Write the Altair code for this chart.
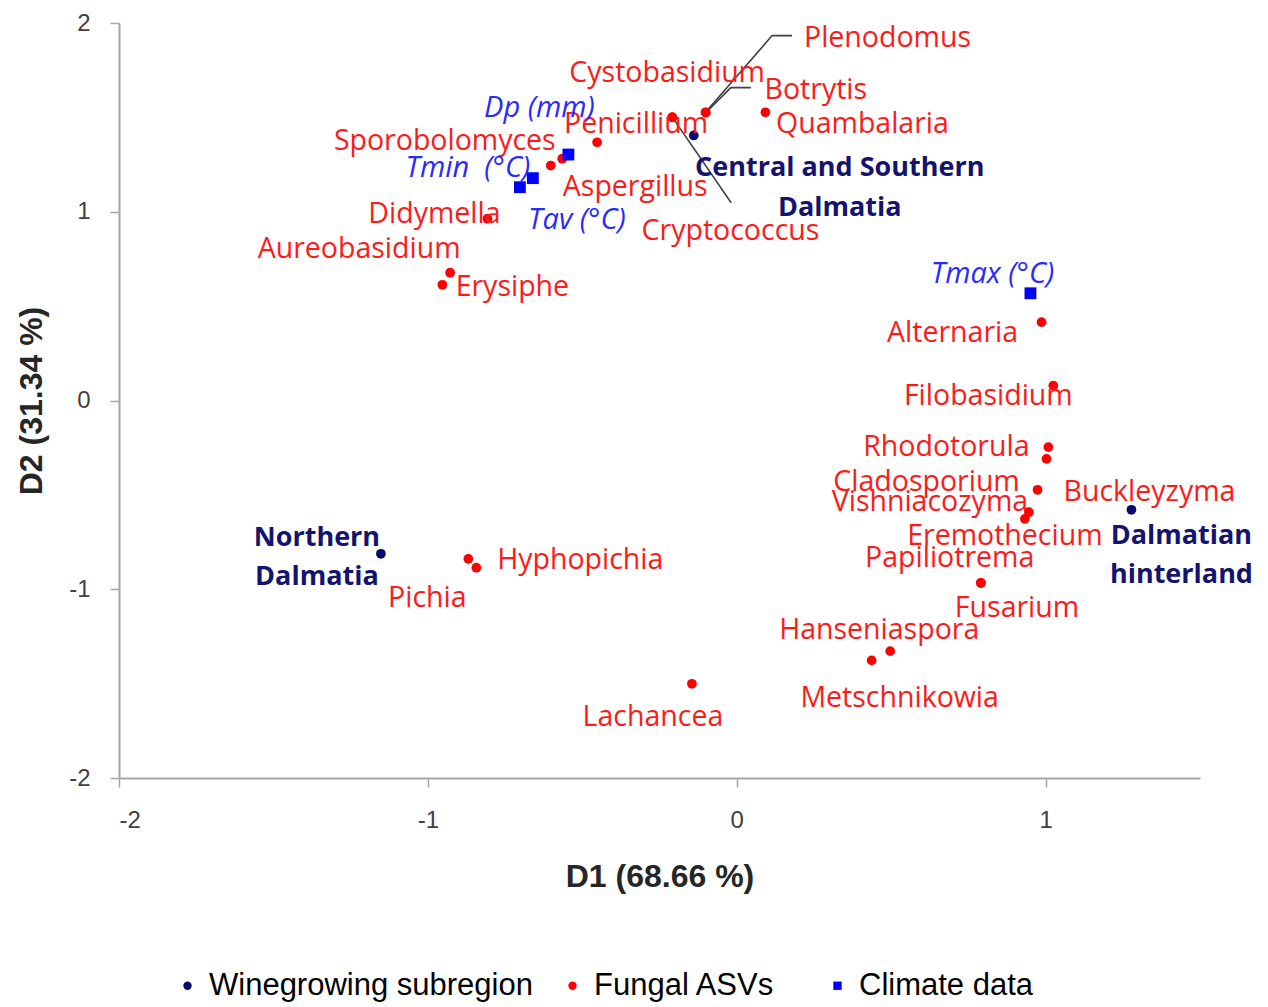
import altair as alt
import pandas as pd

# ---------------- data ----------------
region_names = ["Central and Southern Dalmatia", "Dalmatian hinterland", "Northern Dalmatia"]
region_d1 = [-0.139, 1.278, -1.152]
region_d2 = [1.404, -0.579, -0.812]

climate_names = ["Dp (mm)", "Tmin  (°C)", "Tav (°C)", "Tmax (°C)"]
climate_d1 = [-0.545, -0.660, -0.702, 0.951]
climate_d2 = [1.303, 1.178, 1.130, 0.568]

fungal_names = ["Plenodomus", "Botrytis", "Cystobasidium", "Cryptococcus", "Quambalaria",
                "Penicillium", "Sporobolomyces", "Aspergillus", "Didymella", "Aureobasidium",
                "Erysiphe", "Alternaria", "Filobasidium", "Rhodotorula", "Buckleyzyma",
                "Cladosporium", "Vishniacozyma", "Eremothecium", "Papiliotrema", "Fusarium",
                "Hanseniaspora", "Metschnikowia", "Lachancea", "Hyphopichia", "Pichia"]
fungal_d1 = [-0.101, -0.100, -0.209, -0.208, 0.093, -0.452, -0.602, -0.565, -0.807, -0.928,
             -0.953, 0.987, 1.025, 1.009, 1.003, 0.974, 0.946, 0.933, 0.790, 0.791,
             0.497, 0.437, -0.145, -0.869, -0.843]
fungal_d2 = [1.527, 1.525, 1.501, 1.500, 1.527, 1.368, 1.245, 1.281, 0.963, 0.677,
             0.613, 0.415, 0.079, -0.247, -0.309, -0.473, -0.592, -0.627, -0.966, -0.967,
             -1.328, -1.377, -1.501, -0.839, -0.886]

groups = ["Winegrowing subregion", "Fungal ASVs", "Climate data"]
x_ticks = [-2, -1, 0, 1]
y_ticks = [-2, -1, 0, 1, 2]

# ---------------- layout (label offsets in pixels from their point) ----------------
W, H = 1081, 755
X_DOM, Y_DOM = [-2, 1.5], [-2, 2]
PX_X = W / (X_DOM[1] - X_DOM[0])
PX_Y = H / (Y_DOM[1] - Y_DOM[0])

label_layout = {
    "Central and Southern Dalmatia": [("Central and Southern", 146, 33), ("Dalmatia", 146, 73)],
    "Dalmatian hinterland": [("Dalmatian", 50, 26), ("hinterland", 50, 65)],
    "Northern Dalmatia": [("Northern", -64, -16), ("Dalmatia", -64, 23)],
    "Dp (mm)": [("Dp (mm)", -29, -47)],
    "Tmin  (°C)": [("Tmin\u00a0 (°C)", -65, -10)],
    "Tav (°C)": [("Tav (°C)", 57, 33)],
    "Tmax (°C)": [("Tmax (°C)", -38, -19)],
    "Plenodomus": [("Plenodomus", 182, -74)],
    "Botrytis": [("Botrytis", 110, -23)],
    "Cystobasidium": [("Cystobasidium", -5, -44)],
    "Cryptococcus": [("Cryptococcus", 58, 114)],
    "Quambalaria": [("Quambalaria", 97, 12)],
    "Penicillium": [("Penicillium", 39, -18)],
    "Sporobolomyces": [("Sporobolomyces", -106, -25)],
    "Aspergillus": [("Aspergillus", 73, 28)],
    "Didymella": [("Didymella", -53, -5)],
    "Aureobasidium": [("Aureobasidium", -91, -24)],
    "Erysiphe": [("Erysiphe", 70, 2)],
    "Alternaria": [("Alternaria", -89, 11)],
    "Filobasidium": [("Filobasidium", -65, 10)],
    "Rhodotorula": [("Rhodotorula", -102, 0)],
    "Buckleyzyma": [("Buckleyzyma", 103, 33)],
    "Cladosporium": [("Cladosporium", -111, -8)],
    "Vishniacozyma": [("Vishniacozyma", -99, -10)],
    "Eremothecium": [("Eremothecium", -20, 17)],
    "Papiliotrema": [("Papiliotrema", -31, -25)],
    "Fusarium": [("Fusarium", 36, 25)],
    "Hanseniaspora": [("Hanseniaspora", -11, -21)],
    "Metschnikowia": [("Metschnikowia", 28, 38)],
    "Lachancea": [("Lachancea", -39, 33)],
    "Hyphopichia": [("Hyphopichia", 112, 1)],
    "Pichia": [("Pichia", -49, 30)],
}
leader_layout = {
    "Plenodomus": [(0, 0), (66.6, -76.7), (86.6, -76.7)],
    "Botrytis": [(0, 0), (25, -25), (45, -25)],
    "Cryptococcus": [(0, 0), (58.7, 85.3)],
}

# ---------------- tables ----------------
points = pd.DataFrame({
    "name": region_names + fungal_names + climate_names,
    "d1": region_d1 + fungal_d1 + climate_d1,
    "d2": region_d2 + fungal_d2 + climate_d2,
    "group": [groups[0]] * len(region_names) + [groups[1]] * len(fungal_names)
             + [groups[2]] * len(climate_names),
})


def label_rows(names, xs, ys):
    rows = []
    for n, x, y in zip(names, xs, ys):
        for txt, dx, dy in label_layout[n]:
            rows.append({"t": txt, "lx": x + dx / PX_X, "ly": y - dy / PX_Y})
    return pd.DataFrame(rows)


lab_region = label_rows(region_names, region_d1, region_d2)
lab_climate = label_rows(climate_names, climate_d1, climate_d2)
lab_fungal = label_rows(fungal_names, fungal_d1, fungal_d2)

lead_rows = []
for n, x, y in zip(fungal_names, fungal_d1, fungal_d2):
    if n in leader_layout:
        for k, (dx, dy) in enumerate(leader_layout[n]):
            lead_rows.append({"id": n, "k": k, "lx": x + dx / PX_X, "ly": y - dy / PX_Y})
leaders = pd.DataFrame(lead_rows)

# ---------------- encodings ----------------
AX_FONT = "Liberation Sans, Arial, sans-serif"
x_axis = alt.Axis(values=x_ticks, grid=False, domainColor="#A6A6A6", domainWidth=2,
                  tickColor="#A6A6A6", tickSize=9, tickWidth=1.5, labelFont=AX_FONT,
                  labelFontSize=24, labelColor="#404040", labelPadding=21,
                  labelExpr="'' + datum.value",
                  titleFont=AX_FONT, titleFontSize=32, titleFontWeight="bold",
                  titleColor="#262626", titlePadding=29)
y_axis = alt.Axis(values=y_ticks, grid=False, domainColor="#A6A6A6", domainWidth=2,
                  tickColor="#A6A6A6", tickSize=9, tickWidth=1.5, labelFont=AX_FONT,
                  labelFontSize=24, labelColor="#404040", labelPadding=20,
                  labelExpr="'' + datum.value",
                  titleFont=AX_FONT, titleFontSize=32, titleFontWeight="bold",
                  titleColor="#262626", titlePadding=20)
x_scale = alt.Scale(domain=X_DOM, nice=False, zero=False)
y_scale = alt.Scale(domain=Y_DOM, nice=False, zero=False)


def X(f):
    return alt.X(f"{f}:Q", scale=x_scale, axis=x_axis, title="D1 (68.66 %)")


def Y(f):
    return alt.Y(f"{f}:Q", scale=y_scale, axis=y_axis, title="D2 (31.34 %)")


color = alt.Color("group:N", scale=alt.Scale(domain=groups,
                  range=["#0A0A6E", "#FF0000", "#0000FF"]),
                  legend=alt.Legend(title=None, orient="none", direction="horizontal",
                                    legendX=53, legendY=947, labelFont=AX_FONT,
                                    labelFontSize=31, labelColor="#000000", labelLimit=500,
                                    symbolSize=70, labelOffset=6, columnPadding=24,
                                    symbolStrokeWidth=0,
                                    labelExpr="datum.label == 'Fungal ASVs' ? 'Fungal ASVs\u2800' : datum.label"))
shape = alt.Shape("group:N", scale=alt.Scale(domain=groups, range=["circle", "circle", "square"]),
                  legend=None)

lead = alt.Chart(leaders).mark_line(color="#404040", strokeWidth=1.6).encode(
    x=X("lx"), y=Y("ly"), detail="id:N", order="k:Q")

circles = alt.Chart(points).transform_filter(
    alt.datum.group != "Climate data").mark_point(filled=True, opacity=1, size=95).encode(
    x=X("d1"), y=Y("d2"), color=color, shape=shape)
squares = alt.Chart(points).transform_filter(
    alt.datum.group == "Climate data").mark_point(filled=True, opacity=1, size=140).encode(
    x=X("d1"), y=Y("d2"), color=color, shape=shape)

TXT_FONT = "Open Sans"
t_fungal = alt.Chart(lab_fungal).mark_text(font=TXT_FONT, fontSize=28.5, color="#FF1A1A",
                                           align="center", baseline="middle").encode(
    x=X("lx"), y=Y("ly"), text="t:N")
t_region = alt.Chart(lab_region).mark_text(font=TXT_FONT, fontSize=27, fontWeight="bold",
                                           color="#14146E", align="center",
                                           baseline="middle").encode(
    x=X("lx"), y=Y("ly"), text="t:N")
t_climate = alt.Chart(lab_climate).mark_text(font=TXT_FONT, fontSize=29, fontStyle="italic",
                                             color="#2A2AFF", align="center",
                                             baseline="middle").encode(
    x=X("lx"), y=Y("ly"), text="t:N")

chart = alt.layer(lead, circles, squares, t_fungal, t_region, t_climate).properties(
    width=W, height=H,
    autosize=alt.AutoSizeParams(type="none"),
    padding={"left": 119, "top": 23, "right": 68, "bottom": 229},
    background="white",
).configure_view(stroke=None)

chart.save("out.html", embed_options={"renderer": "svg", "actions": False})
